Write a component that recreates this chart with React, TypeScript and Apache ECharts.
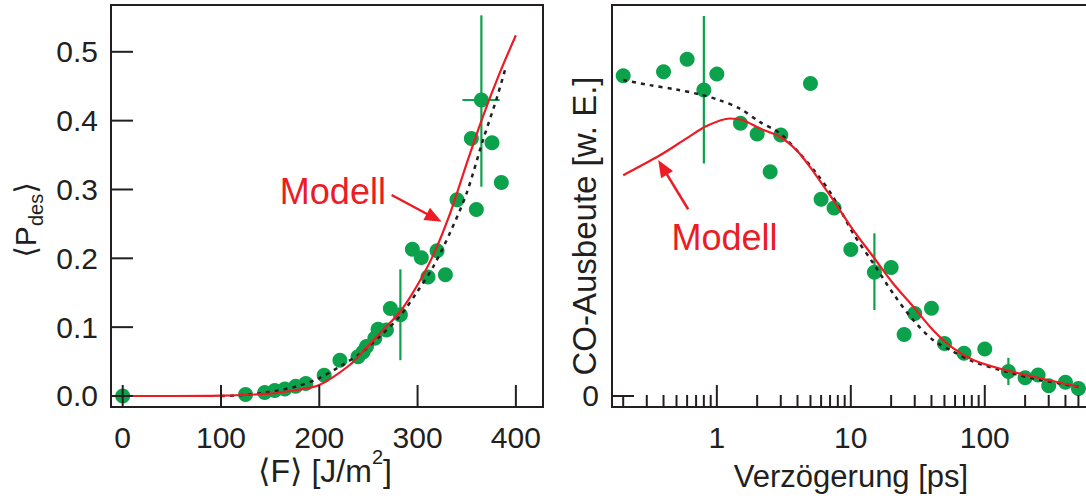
import React, { useEffect, useRef } from "react";
import * as echarts from "echarts";

// ---------- left panel: desorption probability vs fluence ----------
const fluence = [0, 125, 144.5, 154.7, 164.9, 176, 186.3, 205, 221, 239.4, 244.5, 248, 256.5, 259.8, 268.3, 272.3, 282.5, 294.7, 303.8, 310.6, 319.8, 328.3, 340.1, 354.7, 359.8, 364.9, 375.7, 385.2];
const pdes = [0, 0.002, 0.005, 0.008, 0.01, 0.014, 0.018, 0.03, 0.052, 0.057, 0.064, 0.072, 0.084, 0.097, 0.096, 0.127, 0.118, 0.213, 0.201, 0.173, 0.211, 0.176, 0.285, 0.374, 0.271, 0.43, 0.368, 0.31];

const modelLeftX = [0, 50, 100, 146, 173, 200, 231, 248, 265, 282, 299, 316, 333, 350, 367, 383.5, 400];
const modelLeftY = [0, 0, 0.0005, 0.003, 0.008, 0.016, 0.045, 0.07, 0.096, 0.122, 0.159, 0.205, 0.265, 0.338, 0.408, 0.469, 0.524];

const fitLeftX = [100, 119, 146, 177, 200, 221, 242, 262, 282, 299, 316, 333, 350, 366.6, 380, 389];
const fitLeftY = [0, 0.001, 0.005, 0.014, 0.026, 0.043, 0.062, 0.087, 0.116, 0.15, 0.188, 0.237, 0.295, 0.372, 0.43, 0.474];

// vertical error bars [x, low, high], horizontal [y, low, high]
const errLeftV = [[282.5, 0.052, 0.184], [364.9, 0.304, 0.553]];
const errLeftH = [[0.43, 345.6, 383.5]];

const leftXTicks = [0, 100, 200, 300, 400];
const leftYTicks = [0, 0.1, 0.2, 0.3, 0.4, 0.5];

// ---------- right panel: CO yield vs delay ----------
const delays = [0.2, 0.4, 0.6, 0.8, 1.0, 5.0, 1.5, 2, 3, 2.5, 6, 7.5, 10, 15, 20, 30, 40, 25, 50, 70, 100, 150, 200, 250, 300, 400, 500];
const yields = [0.931, 0.943, 0.979, 0.89, 0.936, 0.909, 0.793, 0.762, 0.759, 0.652, 0.572, 0.547, 0.426, 0.36, 0.374, 0.24, 0.255, 0.179, 0.153, 0.124, 0.137, 0.071, 0.053, 0.061, 0.03, 0.04, 0.022];

const modelRightX = [0.2, 0.376, 0.594, 0.838, 1.25, 1.57, 2.09, 2.95, 3.93, 4.94, 7.38, 10.4, 14.7, 20.7, 29.2, 41, 58, 82, 129, 229, 500];
const modelRightY = [0.642, 0.7, 0.749, 0.785, 0.807, 0.802, 0.778, 0.754, 0.715, 0.667, 0.57, 0.483, 0.405, 0.327, 0.26, 0.192, 0.139, 0.105, 0.08, 0.056, 0.027];

const fitRightX = [0.2, 0.316, 0.5, 0.746, 1.05, 1.48, 2.09, 2.95, 4.16, 5.55, 7.38, 10.4, 14.7, 20.7, 29.2, 41, 58, 82, 129, 229, 500];
const fitRightY = [0.919, 0.904, 0.891, 0.877, 0.86, 0.836, 0.797, 0.764, 0.705, 0.647, 0.579, 0.473, 0.386, 0.298, 0.221, 0.163, 0.129, 0.1, 0.076, 0.051, 0.027];

const errRightV = [[0.8, 0.676, 1.105], [15, 0.25, 0.473], [150, 0.032, 0.111]];

const rightXTicks = [1, 10, 100];
const rightMinorTicks = [0.2, 0.3, 0.4, 0.5, 0.6, 0.7, 0.8, 0.9, 2, 3, 4, 5, 6, 7, 8, 9, 20, 30, 40, 50, 60, 70, 80, 90, 200, 300, 400, 500];
const rightYTicks = [0];

// annotation anchors (data coordinates)
const annLeft = { text: [267.8, 0.297], from: [273.6, 0.292], to: [324.5, 0.253] };
const annRight = { text: [0.459, 0.462], from: [0.611, 0.543], to: [0.365, 0.686] };

const FONT = "'Liberation Sans', Arial, Helvetica, 'DejaVu Sans', sans-serif";
const INK = "#231f20";
const GREEN = "#0ca24c";
const RED = "#ec1c24";

const zip = (a: number[], b: number[]) => a.map((v, i) => [v, b[i]]);

function measure(text: string, size: number): number {
  const c = document.createElement("canvas");
  const ctx = c.getContext("2d")!;
  ctx.font = `${size}px ${FONT}`;
  return ctx.measureText(text).width;
}

type Piece = { text: string; size: number; dy: number };
function titleGroup(cx: number, cy: number, rotation: number, pieces: Piece[]) {
  const widths = pieces.map((p) => measure(p.text, p.size));
  const total = widths.reduce((s, w) => s + w, 0);
  let cursor = -total / 2;
  const children = pieces.map((p, i) => {
    const el = {
      type: "text",
      x: cursor,
      y: p.dy,
      style: {
        text: p.text,
        fontSize: p.size,
        fontFamily: FONT,
        fill: INK,
        align: "left",
        verticalAlign: "middle",
      },
    };
    cursor += widths[i];
    return el;
  });
  return { type: "group", x: cx, y: cy, rotation, children };
}

function arrow(p0: number[], p1: number[]) {
  const dx = p1[0] - p0[0];
  const dy = p1[1] - p0[1];
  const len = Math.hypot(dx, dy);
  const ux = dx / len;
  const uy = dy / len;
  const hl = 17;
  const hw = 7;
  const bx = p1[0] - ux * hl;
  const by = p1[1] - uy * hl;
  return [
    {
      type: "line",
      shape: { x1: p0[0], y1: p0[1], x2: bx + ux * 2, y2: by + uy * 2 },
      style: { stroke: RED, lineWidth: 2.5 },
    },
    {
      type: "polygon",
      shape: {
        points: [
          [p1[0], p1[1]],
          [bx - uy * hw, by + ux * hw],
          [bx + uy * hw, by - ux * hw],
        ],
      },
      style: { fill: RED },
    },
  ];
}

// tick marks drawn inward from the frame, positioned through the axis scale
function tickSeries(grid: number, dim: "x" | "y", values: number[], len: number) {
  return {
    type: "custom",
    xAxisIndex: grid,
    yAxisIndex: grid,
    silent: true,
    clip: false,
    z: 6,
    data: values.map((v) => (dim === "x" ? [v, grid === 1 ? 0.5 : 0] : [grid === 1 ? 1 : 0, v])),
    renderItem: (params: any, api: any) => {
      const cs = params.coordSys;
      const p = api.coord([api.value(0), api.value(1)]);
      if (dim === "x") {
        const bottom = cs.y + cs.height;
        return {
          type: "line",
          shape: { x1: p[0], y1: bottom, x2: p[0], y2: bottom - len },
          style: { stroke: INK, lineWidth: 2 },
        };
      }
      return {
        type: "line",
        shape: { x1: cs.x, y1: p[1], x2: cs.x + len, y2: p[1] },
        style: { stroke: INK, lineWidth: 2 },
      };
    },
  };
}

export default function App() {
  const ref = useRef<HTMLDivElement>(null);

  useEffect(() => {
    if (!ref.current) return;
    const chart = echarts.init(ref.current, undefined, { renderer: "svg" });

    const tickLabel = {
      fontSize: 30,
      color: INK,
      fontFamily: FONT,
    };
    const hiddenLine = { show: false, onZero: false };

    const errV = (params: any, api: any) => {
      const x = api.value(0);
      const a = api.coord([x, api.value(1)]);
      const b = api.coord([x, api.value(2)]);
      return {
        type: "line",
        shape: { x1: a[0], y1: a[1], x2: b[0], y2: b[1] },
        style: { stroke: GREEN, lineWidth: 2.2 },
      };
    };
    const errH = (params: any, api: any) => {
      const y = api.value(0);
      const a = api.coord([api.value(1), y]);
      const b = api.coord([api.value(2), y]);
      return {
        type: "line",
        shape: { x1: a[0], y1: a[1], x2: b[0], y2: b[1] },
        style: { stroke: GREEN, lineWidth: 2.2 },
      };
    };

    chart.setOption({
      animation: false,
      backgroundColor: "#ffffff",
      grid: [
        { left: 111, top: 5, width: 432, height: 402, show: true, borderColor: INK, borderWidth: 2, backgroundColor: "transparent" },
        { left: 612, top: 5, width: 478, height: 402, show: true, borderColor: INK, borderWidth: 2, backgroundColor: "transparent" },
      ],
      xAxis: [
        {
          type: "value",
          gridIndex: 0,
          position: "bottom",
          min: -11.9,
          max: 427.6,
          axisLine: hiddenLine,
          splitLine: { show: false },
          axisTick: { show: false },
          axisLabel: { ...tickLabel, margin: 15, customValues: leftXTicks },
        },
        {
          type: "log",
          logBase: 10,
          gridIndex: 1,
          position: "bottom",
          min: 0.165,
          max: 610,
          axisLine: hiddenLine,
          splitLine: { show: false },
          minorTick: { show: false },
          axisTick: { show: false },
          axisLabel: { ...tickLabel, margin: 15, customValues: rightXTicks, formatter: (v: number) => String(Math.round(v)) },
        },
      ],
      yAxis: [
        {
          type: "value",
          gridIndex: 0,
          position: "left",
          min: -0.016,
          max: 0.568,
          axisLine: hiddenLine,
          splitLine: { show: false },
          axisTick: { show: false },
          axisLabel: { ...tickLabel, margin: 13, customValues: leftYTicks, formatter: (v: number) => v.toFixed(1) },
        },
        {
          type: "value",
          gridIndex: 1,
          position: "left",
          min: -0.032,
          max: 1.137,
          axisLine: hiddenLine,
          splitLine: { show: false },
          axisTick: { show: false },
          axisLabel: { ...tickLabel, margin: 13, customValues: rightYTicks, formatter: (v: number) => String(v) },
        },
      ],
      series: [
        // left
        { type: "custom", xAxisIndex: 0, yAxisIndex: 0, renderItem: errV, data: errLeftV, z: 1, silent: true },
        { type: "custom", xAxisIndex: 0, yAxisIndex: 0, renderItem: errH, data: errLeftH, z: 1, silent: true, encode: { x: [1, 2], y: 0 } },
        { type: "scatter", xAxisIndex: 0, yAxisIndex: 0, data: zip(fluence, pdes), symbolSize: 15, itemStyle: { color: GREEN, opacity: 1 }, z: 2 },
        { type: "line", xAxisIndex: 0, yAxisIndex: 0, data: zip(fitLeftX, fitLeftY), smooth: 0.3, showSymbol: false, lineStyle: { color: INK, width: 2.5, type: [4, 5] }, z: 3 },
        { type: "line", xAxisIndex: 0, yAxisIndex: 0, data: zip(modelLeftX, modelLeftY), smooth: 0.3, showSymbol: false, lineStyle: { color: RED, width: 2.2 }, z: 4 },
        tickSeries(0, "x", leftXTicks, 22),
        tickSeries(0, "y", leftYTicks, 22),
        // right
        { type: "custom", xAxisIndex: 1, yAxisIndex: 1, renderItem: errV, data: errRightV, z: 1, silent: true },
        { type: "scatter", xAxisIndex: 1, yAxisIndex: 1, data: zip(delays, yields), symbolSize: 15, itemStyle: { color: GREEN, opacity: 1 }, z: 2 },
        { type: "line", xAxisIndex: 1, yAxisIndex: 1, data: zip(fitRightX, fitRightY), smooth: 0.3, showSymbol: false, lineStyle: { color: INK, width: 2.5, type: [4, 5] }, z: 3 },
        { type: "line", xAxisIndex: 1, yAxisIndex: 1, data: zip(modelRightX, modelRightY), smooth: 0.3, showSymbol: false, lineStyle: { color: RED, width: 2.2 }, z: 4 },
        tickSeries(1, "x", rightXTicks, 22),
        tickSeries(1, "x", rightMinorTicks, 12),
        tickSeries(1, "y", rightYTicks, 22),
      ],
    });

    const pl = (g: number, p: number[]) => chart.convertToPixel({ gridIndex: g } as any, p) as number[];

    const lt = pl(0, annLeft.text);
    const rt = pl(1, annRight.text);

    chart.setOption({
      graphic: [
        titleGroup(325, 471, 0, [
          { text: "⟨F⟩ [J/m", size: 32, dy: 0 },
          { text: "2", size: 20, dy: -14 },
          { text: "]", size: 32, dy: 0 },
        ]),
        titleGroup(851, 476, 0, [{ text: "Verzögerung [ps]", size: 31, dy: 0 }]),
        titleGroup(25, 220, Math.PI / 2, [
          { text: "⟨", size: 30, dy: 0 },
          { text: "P", size: 30, dy: 0 },
          { text: "des", size: 20, dy: 11 },
          { text: "⟩", size: 30, dy: 0 },
        ]),
        titleGroup(584, 226, Math.PI / 2, [{ text: "CO-Ausbeute [w. E.]", size: 33, dy: 0 }]),
        {
          type: "text",
          x: lt[0],
          y: lt[1],
          style: { text: "Modell", fontSize: 36, fontFamily: FONT, fill: RED, align: "right", verticalAlign: "middle" },
        },
        ...arrow(pl(0, annLeft.from), pl(0, annLeft.to)),
        {
          type: "text",
          x: rt[0],
          y: rt[1],
          style: { text: "Modell", fontSize: 36, fontFamily: FONT, fill: RED, align: "left", verticalAlign: "middle" },
        },
        ...arrow(pl(1, annRight.from), pl(1, annRight.to)),
      ],
    });

    return () => chart.dispose();
  }, []);

  return (
    <div style={{ position: "absolute", left: 0, top: 0, width: 1086, height: 501, overflow: "hidden", background: "#fff" }}>
      <div ref={ref} style={{ width: 1100, height: 501 }} />
    </div>
  );
}
